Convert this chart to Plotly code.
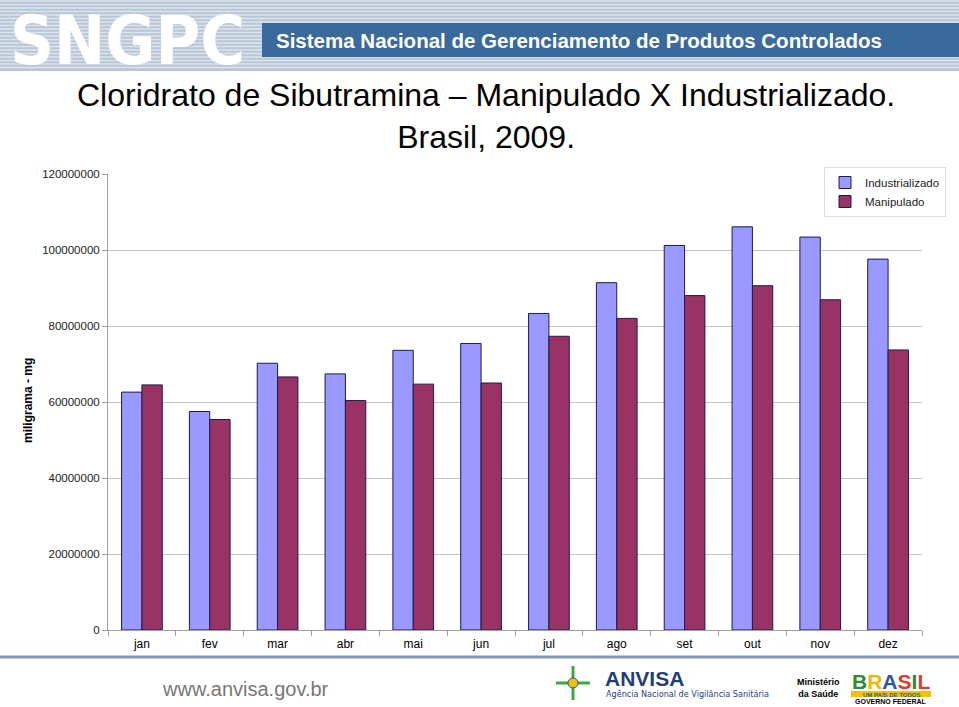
import plotly.graph_objects as go

# ---------------- data ----------------
months = ["jan", "fev", "mar", "abr", "mai", "jun", "jul", "ago", "set", "out", "nov", "dez"]
industrializado = [62600000, 57500000, 70200000, 67400000, 73600000, 75400000,
                   83300000, 91400000, 101200000, 106100000, 103400000, 97600000]
manipulado = [64500000, 55400000, 66600000, 60400000, 64700000, 65000000,
              77300000, 82000000, 88000000, 90600000, 86900000, 73700000]
y_ticks = [0, 20000000, 40000000, 60000000, 80000000, 100000000, 120000000]

# ---------------- layout geometry (pixels) ----------------
W, H = 959, 707
ML, MR, MT, MB = 108, 37, 174, 77
PW = W - ML - MR
PH = H - MT - MB


def px(x):
    return (x - ML) / PW


def py(y):
    return (H - MB - y) / PH


FONT = "Liberation Sans, Arial, sans-serif"

fig = go.Figure()
fig.add_trace(go.Bar(x=months, y=industrializado, name="Industrializado",
                     marker=dict(color="#9999FF", line=dict(color="#1c1c48", width=1))))
fig.add_trace(go.Bar(x=months, y=manipulado, name="Manipulado",
                     marker=dict(color="#993366", line=dict(color="#1c1c48", width=1))))

shapes = []
# header striped background
shapes.append(dict(type="rect", xref="paper", yref="paper", x0=px(0), x1=px(W), y0=py(71), y1=py(0),
                   fillcolor="#b8c6d6", line=dict(width=0), layer="below"))
y = 1
while y < 71:
    shapes.append(dict(type="line", xref="paper", yref="paper", x0=px(0), x1=px(W), y0=py(y), y1=py(y),
                       line=dict(color="#dde4ec", width=1.5), layer="below"))
    y += 3.5
# dark blue band
shapes.append(dict(type="rect", xref="paper", yref="paper", x0=px(262), x1=px(W), y0=py(57), y1=py(23),
                   fillcolor="#3a6a9c", line=dict(width=0), layer="below"))
# footer line
shapes.append(dict(type="line", xref="paper", yref="paper", x0=px(0), x1=px(W), y0=py(657), y1=py(657),
                   line=dict(color="#8199b4", width=3)))
# ANVISA cross symbol
shapes.append(dict(type="line", xref="paper", yref="paper", x0=px(556), x1=px(590), y0=py(683), y1=py(683),
                   line=dict(color="#3aa845", width=3)))
shapes.append(dict(type="line", xref="paper", yref="paper", x0=px(573), x1=px(573), y0=py(666), y1=py(700),
                   line=dict(color="#3aa845", width=3)))
shapes.append(dict(type="circle", xref="paper", yref="paper", x0=px(568), x1=px(578), y0=py(688), y1=py(678),
                   fillcolor="#f2c200", line=dict(color="#2a58a0", width=1)))
# BRASIL logo band
shapes.append(dict(type="rect", xref="paper", yref="paper", x0=px(851), x1=px(931), y0=py(697), y1=py(691),
                   fillcolor="#f2c200", line=dict(width=0)))

annotations = []
annotations.append(dict(text="<b>SNGPC</b>", x=px(8), y=py(40), xref="paper", yref="paper",
                        xanchor="left", yanchor="middle", showarrow=False,
                        font=dict(family="DejaVu Sans Condensed, Liberation Sans", size=68, color="white")))
annotations.append(dict(text="<b>Sistema Nacional de Gerenciamento de Produtos Controlados</b>",
                        x=px(274), y=py(40), xref="paper", yref="paper", xanchor="left", yanchor="middle",
                        showarrow=False, font=dict(family=FONT, size=20.5, color="white")))
annotations.append(dict(text="Cloridrato de Sibutramina – Manipulado X Industrializado.<br>Brasil, 2009.",
                        x=px(486), y=py(116), xref="paper", yref="paper", xanchor="center", yanchor="middle",
                        showarrow=False, font=dict(family=FONT, size=32, color="black")))
annotations.append(dict(text="<b>miligrama - mg</b>", x=px(28), y=py(401), xref="paper", yref="paper",
                        xanchor="center", yanchor="middle", textangle=-90, showarrow=False,
                        font=dict(family=FONT, size=12, color="black")))
annotations.append(dict(text="www.anvisa.gov.br", x=px(245), y=py(689), xref="paper", yref="paper",
                        xanchor="center", yanchor="middle", showarrow=False,
                        font=dict(family=FONT, size=20, color="#777777")))
annotations.append(dict(text="<b>ANVISA</b>", x=px(603), y=py(678), xref="paper", yref="paper",
                        xanchor="left", yanchor="middle", showarrow=False,
                        font=dict(family=FONT, size=21, color="#1f3f7a")))
annotations.append(dict(text="Agência Nacional de Vigilância Sanitária", x=px(604), y=py(694), xref="paper",
                        yref="paper", xanchor="left", yanchor="middle", showarrow=False,
                        font=dict(family="DejaVu Sans Condensed, Liberation Sans", size=9, color="#1f3f7a")))
annotations.append(dict(text="<b>Ministério<br>da Saúde</b>", x=px(818), y=py(688), xref="paper", yref="paper",
                        xanchor="center", yanchor="middle", showarrow=False, align="center",
                        font=dict(family=FONT, size=9, color="black")))
brasil_letters = [("B", "#2f8a3a"), ("R", "#f2b800"), ("A", "#2a58a0"), ("S", "#e03a2a"), ("I", "#2f8a3a"), ("L", "#e03a2a")]
btxt = "".join(f"<span style='color:{c}'>{l}</span>" for l, c in brasil_letters)
annotations.append(dict(text=f"<b>{btxt}</b>", x=px(891), y=py(681), xref="paper", yref="paper",
                        xanchor="center", yanchor="middle", showarrow=False,
                        font=dict(family=FONT, size=21, color="#2f8a3a")))
annotations.append(dict(text="<b>UM PAÍS DE TODOS</b>", x=px(891), y=py(694), xref="paper", yref="paper",
                        xanchor="center", yanchor="middle", showarrow=False,
                        font=dict(family=FONT, size=6, color="#2a58a0")))
annotations.append(dict(text="<b>GOVERNO FEDERAL</b>", x=px(891), y=py(701), xref="paper", yref="paper",
                        xanchor="center", yanchor="middle", showarrow=False,
                        font=dict(family=FONT, size=7, color="black")))

fig.update_layout(
    width=W, height=H,
    margin=dict(l=ML, r=MR, t=MT, b=MB),
    paper_bgcolor="white", plot_bgcolor="white",
    barmode="group", bargap=0.4, bargroupgap=0,
    font=dict(family=FONT, size=11.5, color="black"),
    showlegend=True,
    legend=dict(x=px(824), y=py(167), xanchor="left", yanchor="top",
                bgcolor="white", bordercolor="#dcdcdc", borderwidth=1,
                font=dict(family=FONT, size=11.5, color="#222222"),
                tracegroupgap=0, itemwidth=30),
    shapes=shapes,
    annotations=annotations,
)
fig.update_xaxes(showline=True, linecolor="#a0a0a0", linewidth=1, ticks="outside", tickson="boundaries",
                 ticklen=5, tickcolor="#a0a0a0", showgrid=False, ticklabelstandoff=3,
                 tickfont=dict(family=FONT, size=12, color="black"))
fig.update_yaxes(range=[0, 120000000], tickvals=y_ticks, tickformat="d", showline=True, linecolor="#a0a0a0",
                 linewidth=1, ticks="outside", ticklen=5, tickcolor="#a0a0a0",
                 showgrid=True, gridcolor="#c4c4c4", gridwidth=1, zeroline=False,
                 tickfont=dict(family=FONT, size=11.5, color="#222222"))

fig.write_html("out.html", config={"displayModeBar": False},
               post_script="document.body.style.margin='0';document.body.style.overflow='hidden';")
